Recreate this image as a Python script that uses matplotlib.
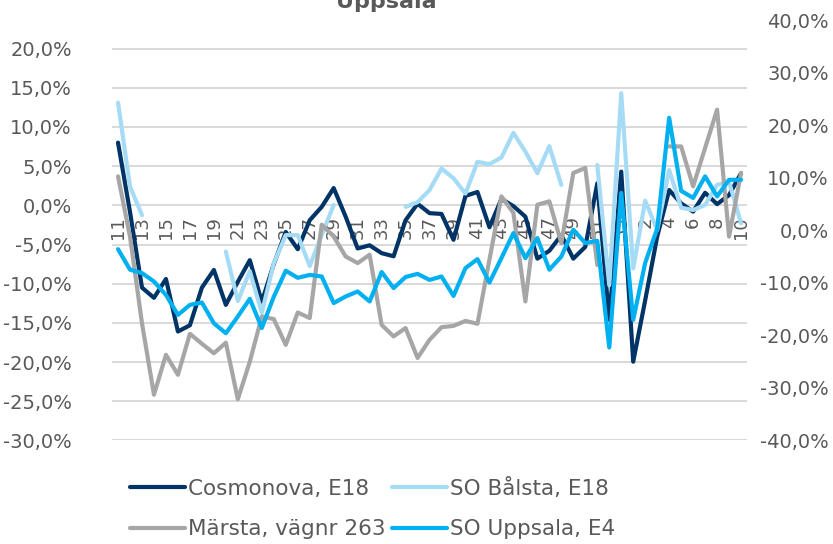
import numpy as np
import matplotlib.pyplot as plt

nan = np.nan

weeks = list(range(11, 54)) + list(range(1, 11))
week_labels = [str(w) for w in weeks]

# Cosmonova, E18 (left axis, %)
cosmonova = [8.0, -0.85, -10.5, -11.8, -9.4, -16.1, -15.3, -10.5, -8.25, -12.7,
             -9.75, -7.0, -12.3, -7.5, -3.4, -5.6, -1.9, -0.2, 2.2, -1.45,
             -5.5, -5.1, -6.1, -6.5, -1.9, 0.2, -1.0, -1.1, -4.4, 1.2,
             1.7, -2.8, 0.8, -0.1, -1.45, -6.8, -5.8, -3.8, -6.8, -5.3,
             2.8, -14.6, 4.3, -19.95, -12.1, -4.0, 1.95, 0.25, -0.8, 1.6,
             0.15, 1.3, 4.1]

# SO Bålsta, E18 (left axis, %)
balsta = [13.1, 2.4, -1.25, nan, nan, nan, nan, nan, nan, -5.9,
          -12.2, -8.4, -13.7, -7.4, -3.8, -3.8, -7.75, -3.8, 0.05, nan,
          nan, nan, nan, nan, -0.2, 0.4, 1.95, 4.7, 3.45, 1.5,
          5.55, 5.25, 6.1, 9.25, 6.85, 4.1, 7.55, 2.6, nan, nan,
          5.15, -10.2, 14.3, -8.05, 0.6, -3.15, 4.5, -0.3, -0.6, 0.05,
          2.6, 3.0, -2.3]

# Märsta, vägnr 263 (right axis, %)
marsta = [10.25, -1.2, -17.7, -31.3, -23.7, -27.5, -19.7, -21.6, -23.4, -21.4,
          -32.15, -25.0, -16.4, -16.9, -21.8, -15.65, -16.7, 1.05, -1.2, -5.0,
          -6.25, -4.65, -18.0, -20.2, -18.6, -24.3, -20.85, -18.45, -18.2, -17.25,
          -17.8, -5.6, 6.45, 3.3, -13.55, 4.85, 5.5, -2.45, 10.9, 11.85,
          -6.6, nan, nan, nan, nan, nan, 15.95, 15.95, 8.35, 15.65,
          22.95, -1.2, 10.9]

# SO Uppsala, E4 (right axis, %)
uppsala = [-3.6, -7.5, -8.15, -9.75, -12.3, -16.1, -14.2, -13.75, -17.7, -19.6,
           -16.4, -13.05, -18.6, -12.65, -7.7, -9.05, -8.5, -8.8, -13.85, -12.6,
           -11.65, -13.55, -7.95, -11.0, -8.9, -8.3, -9.45, -8.8, -12.5, -7.2,
           -5.5, -9.95, -5.3, -0.55, -5.3, -1.5, -7.5, -5.0, 0.1, -2.45,
           -2.0, -22.3, 7.1, -17.05, -6.2, 0.3, 21.4, 7.5, 6.15, 10.25,
           6.45, 9.6, 9.6]

left_ticks = list(range(-30, 25, 5))
right_ticks = list(range(-40, 50, 10))

txt = '#595959'
grid = '#d9d9d9'

fig = plt.figure(figsize=(8.33, 5.44), dpi=100)
ax = fig.add_axes([0.1345, 0.1903, 0.7623, 0.7729])
ax2 = ax.twinx()

# x axis crosses the left axis at 0
for a in (ax, ax2):
    for s in a.spines.values():
        s.set_visible(False)
ax.spines['bottom'].set_position(('data', 0))

x = np.arange(len(weeks))
lw = 3
l1, = ax.plot(x, cosmonova, color='#003366', lw=lw, solid_joinstyle='round',
              solid_capstyle='round', label='Cosmonova, E18')
l2, = ax.plot(x, balsta, color='#a6dbf5', lw=lw, solid_joinstyle='round',
              solid_capstyle='round', label='SO Bålsta, E18')
l3, = ax2.plot(x, marsta, color='#a6a6a6', lw=lw, solid_joinstyle='round',
               solid_capstyle='round', label='Märsta, vägnr 263')
l4, = ax2.plot(x, uppsala, color='#00b0f0', lw=lw, solid_joinstyle='round',
               solid_capstyle='round', label='SO Uppsala, E4')

ax.set_xlim(-0.5, len(weeks) - 0.5)
ax.set_ylim(-30, 23.64)
ax2.set_ylim(-40, 40)

ax.set_yticks(left_ticks)
ax.set_yticklabels([f'{v},0%' for v in left_ticks])
ax2.set_yticks(right_ticks)
ax2.set_yticklabels([f'{v},0%' for v in right_ticks], ha='right')

ax.set_xticks(x[::2])
ax.set_xticklabels(week_labels[::2])

ax.grid(axis='y', color=grid, lw=1.4)
ax.set_axisbelow(True)

ax.tick_params(axis='y', length=0, pad=29, labelsize=14, labelcolor=txt)
ax2.tick_params(axis='y', length=0, pad=59, labelsize=14, labelcolor=txt)
ax.tick_params(axis='x', length=0, pad=8, labelsize=13, labelcolor=txt,
               labelrotation=90)

fig.text(0.4634, 0.985, 'Uppsala', ha='center', va='baseline',
         fontsize=16, fontweight='bold', color=txt)

# legend fills column-wise, so order handles for row-wise reading
fig.legend(handles=[l1, l3, l2, l4], loc='upper left', ncol=2,
           bbox_to_anchor=(0.156, 0.122), frameon=False, fontsize=15.5,
           labelcolor=txt, handlelength=2.56, handletextpad=0.14,
           columnspacing=0.3, labelspacing=0.95, borderpad=0, borderaxespad=0)

fig.savefig('out.png', dpi=100)
